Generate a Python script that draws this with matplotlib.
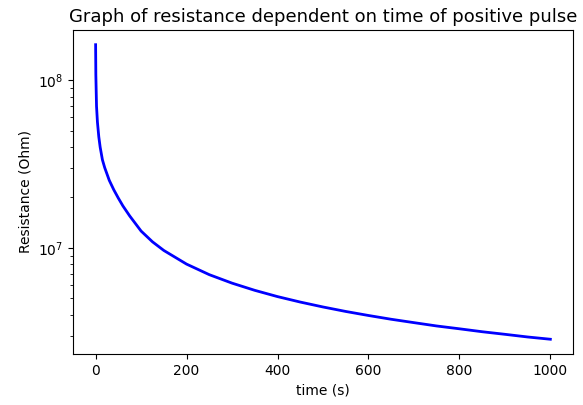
import matplotlib
matplotlib.use("Agg")
import matplotlib.pyplot as plt

# values
time_s = [0, 0.5, 2, 4, 7, 10, 15, 20, 25, 30, 40, 50, 60, 75, 100, 125, 150,
          200, 250, 300, 350, 400, 450, 500, 550, 600, 650, 700, 750, 800,
          850, 900, 950, 1000]
resistance = [1.63e8, 1.08e8, 7.0e7, 5.63e7, 4.6e7, 3.99e7, 3.35e7, 3.01e7,
              2.76e7, 2.53e7, 2.22e7, 1.98e7, 1.78e7, 1.55e7, 1.26e7, 1.087e7,
              9.65e6, 8.0e6, 6.92e6, 6.16e6, 5.58e6, 5.12e6, 4.75e6, 4.44e6,
              4.175e6, 3.95e6, 3.75e6, 3.58e6, 3.42e6, 3.29e6, 3.16e6, 3.05e6,
              2.94e6, 2.85e6]

fig = plt.figure(figsize=(5.83, 4.05), dpi=100)
ax = fig.add_axes([0.125, 0.126, 0.858, 0.8])
ax.plot(time_s, resistance, color="blue", linewidth=2)
ax.set_yscale("log")
ax.set_title("Graph of resistance dependent on time of positive pulse", fontsize=13)
ax.set_xlabel("time (s)")
ax.set_ylabel("Resistance (Ohm)")
fig.savefig("out.png", dpi=100)
